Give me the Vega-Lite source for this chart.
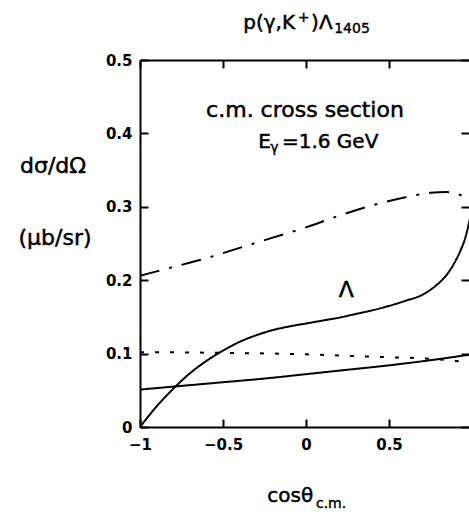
{
  "$schema": "https://vega.github.io/schema/vega-lite/v6.json",
  "width": 329,
  "height": 367,
  "autosize": {"type": "none"},
  "padding": {"left": 140, "top": 60, "right": 0, "bottom": 88},
  "background": "white",
  "config": {"view": {"stroke": null}, "font": "DejaVu Sans"},
  "datasets": {
    "curves": [
      {"curve": "lambda", "cos": -1, "sigma": 0},
      {"curve": "lambda", "cos": -0.9, "sigma": 0.028},
      {"curve": "lambda", "cos": -0.8, "sigma": 0.052},
      {"curve": "lambda", "cos": -0.7, "sigma": 0.073},
      {"curve": "lambda", "cos": -0.6, "sigma": 0.09},
      {"curve": "lambda", "cos": -0.5, "sigma": 0.104},
      {"curve": "lambda", "cos": -0.4, "sigma": 0.116},
      {"curve": "lambda", "cos": -0.3, "sigma": 0.125},
      {"curve": "lambda", "cos": -0.2, "sigma": 0.132},
      {"curve": "lambda", "cos": -0.1, "sigma": 0.137},
      {"curve": "lambda", "cos": 0, "sigma": 0.141},
      {"curve": "lambda", "cos": 0.1, "sigma": 0.145},
      {"curve": "lambda", "cos": 0.2, "sigma": 0.149},
      {"curve": "lambda", "cos": 0.3, "sigma": 0.154},
      {"curve": "lambda", "cos": 0.4, "sigma": 0.159},
      {"curve": "lambda", "cos": 0.5, "sigma": 0.165},
      {"curve": "lambda", "cos": 0.6, "sigma": 0.172},
      {"curve": "lambda", "cos": 0.7, "sigma": 0.18},
      {"curve": "lambda", "cos": 0.75, "sigma": 0.187},
      {"curve": "lambda", "cos": 0.8, "sigma": 0.196},
      {"curve": "lambda", "cos": 0.85, "sigma": 0.208},
      {"curve": "lambda", "cos": 0.9, "sigma": 0.226},
      {"curve": "lambda", "cos": 0.93, "sigma": 0.24},
      {"curve": "lambda", "cos": 0.96, "sigma": 0.258},
      {"curve": "lambda", "cos": 0.98, "sigma": 0.276},
      {"curve": "lambda", "cos": 1, "sigma": 0.298},
      {"curve": "linear", "cos": -1, "sigma": 0.051},
      {"curve": "linear", "cos": -0.75, "sigma": 0.056},
      {"curve": "linear", "cos": -0.5, "sigma": 0.061},
      {"curve": "linear", "cos": -0.25, "sigma": 0.066},
      {"curve": "linear", "cos": 0, "sigma": 0.072},
      {"curve": "linear", "cos": 0.25, "sigma": 0.078},
      {"curve": "linear", "cos": 0.5, "sigma": 0.084},
      {"curve": "linear", "cos": 0.75, "sigma": 0.091},
      {"curve": "linear", "cos": 1, "sigma": 0.099},
      {"curve": "dotted", "cos": -1, "sigma": 0.102},
      {"curve": "dotted", "cos": -0.5, "sigma": 0.101},
      {"curve": "dotted", "cos": 0, "sigma": 0.099},
      {"curve": "dotted", "cos": 0.25, "sigma": 0.097},
      {"curve": "dotted", "cos": 0.5, "sigma": 0.095},
      {"curve": "dotted", "cos": 0.75, "sigma": 0.093},
      {"curve": "dotted", "cos": 0.9, "sigma": 0.09},
      {"curve": "dotted", "cos": 1, "sigma": 0.088},
      {"curve": "dashdot", "cos": -1, "sigma": 0.206},
      {"curve": "dashdot", "cos": -0.8, "sigma": 0.218},
      {"curve": "dashdot", "cos": -0.6, "sigma": 0.23},
      {"curve": "dashdot", "cos": -0.4, "sigma": 0.244},
      {"curve": "dashdot", "cos": -0.2, "sigma": 0.258},
      {"curve": "dashdot", "cos": 0, "sigma": 0.272},
      {"curve": "dashdot", "cos": 0.2, "sigma": 0.288},
      {"curve": "dashdot", "cos": 0.4, "sigma": 0.302},
      {"curve": "dashdot", "cos": 0.6, "sigma": 0.313},
      {"curve": "dashdot", "cos": 0.75, "sigma": 0.319},
      {"curve": "dashdot", "cos": 0.85, "sigma": 0.32},
      {"curve": "dashdot", "cos": 0.93, "sigma": 0.316},
      {"curve": "dashdot", "cos": 1, "sigma": 0.309}
    ],
    "centerText": [
      {"label": "c.m. cross section", "cos": -0.006, "sigma": 0.4223},
      {"label": "Λ", "cos": 0.243, "sigma": 0.177},
      {"label": "dσ/dΩ", "cos": -1.524, "sigma": 0.346},
      {"label": "(μb/sr)", "cos": -1.512, "sigma": 0.248}
    ],
    "leftText": [
      {"label": "E", "cos": -0.287, "sigma": 0.38},
      {"label": "=1.6 GeV", "cos": -0.145, "sigma": 0.38},
      {"label": "cosθ", "cos": -0.233, "sigma": -0.102},
      {"label": "p(γ,K", "cos": -0.378, "sigma": 0.5418},
      {"label": ")", "cos": 0.03, "sigma": 0.5418},
      {"label": "Λ", "cos": 0.078, "sigma": 0.5418}
    ],
    "smallText": [
      {"label": "γ", "cos": -0.215, "sigma": 0.374},
      {"label": "c.m.", "cos": 0.06, "sigma": -0.11},
      {"label": "+", "cos": -0.05, "sigma": 0.5515},
      {"label": "1405", "cos": 0.17, "sigma": 0.5368}
    ]
  },
  "layer": [
    {
      "data": {"name": "curves"},
      "mark": {"type": "line", "clip": true, "strokeWidth": 2, "color": "black", "interpolate": "monotone"},
      "encoding": {
        "x": {"field": "cos", "type": "quantitative",
          "scale": {"domain": [-1, 0.982], "nice": false, "zero": false},
          "axis": {"orient": "bottom", "values": [-1, -0.5, 0, 0.5, 1], "format": "~g", "title": null, "grid": false,
            "tickSize": -8, "tickWidth": 2, "tickColor": "black", "domainColor": "black", "domainWidth": 2,
            "labelFont": "DejaVu Sans", "labelFontSize": 15, "labelFontWeight": "bold", "labelColor": "black",
            "labelPadding": 18, "labelFlush": false, "labelOverlap": false}},
        "y": {"field": "sigma", "type": "quantitative",
          "scale": {"domain": [0, 0.5], "nice": false},
          "axis": {"orient": "left", "values": [0, 0.1, 0.2, 0.3, 0.4, 0.5], "format": "~g", "title": null, "grid": false,
            "tickSize": -8, "tickWidth": 2, "tickColor": "black", "domainColor": "black", "domainWidth": 2,
            "labelFont": "DejaVu Sans", "labelFontSize": 15, "labelFontWeight": "bold", "labelColor": "black",
            "labelPadding": 16, "labelFlush": false, "labelOverlap": false}},
        "strokeDash": {"field": "curve", "type": "nominal", "legend": null,
          "scale": {"domain": ["lambda", "linear", "dashdot", "dotted"], "range": [[1, 0], [1, 0], [20, 10, 3, 10], [4, 11]]}}
      }
    },
    {
      "data": {"name": "centerText"},
      "mark": {"type": "text", "font": "DejaVu Sans", "fontSize": 22, "align": "center", "baseline": "alphabetic", "color": "black", "stroke": "black", "strokeWidth": 0.5},
      "encoding": {
        "x": {"field": "cos", "type": "quantitative",
          "scale": {"domain": [-1, 0.982], "nice": false, "zero": false},
          "axis": {"orient": "top", "values": [-1, -0.5, 0, 0.5, 1], "labels": false, "title": null, "grid": false,
            "tickSize": -8, "tickWidth": 2, "tickColor": "black", "domainColor": "black", "domainWidth": 2}},
        "y": {"field": "sigma", "type": "quantitative",
          "scale": {"domain": [0, 0.5], "nice": false},
          "axis": {"orient": "right", "values": [0, 0.1, 0.2, 0.3, 0.4, 0.5], "labels": false, "title": null, "grid": false, "domain": false,
            "tickSize": -8, "tickWidth": 2, "tickColor": "black"}},
        "text": {"field": "label"}
      }
    },
    {
      "data": {"name": "leftText"},
      "mark": {"type": "text", "font": "DejaVu Sans", "fontSize": 20, "align": "left", "baseline": "alphabetic", "color": "black", "stroke": "black", "strokeWidth": 0.5},
      "encoding": {
        "x": {"field": "cos", "type": "quantitative", "scale": {"domain": [-1, 0.982], "nice": false, "zero": false}, "axis": null},
        "y": {"field": "sigma", "type": "quantitative", "scale": {"domain": [0, 0.5], "nice": false}, "axis": null},
        "text": {"field": "label"}
      }
    },
    {
      "data": {"name": "smallText"},
      "mark": {"type": "text", "font": "DejaVu Sans", "fontSize": 14, "align": "left", "baseline": "alphabetic", "color": "black", "stroke": "black", "strokeWidth": 0.4},
      "encoding": {
        "x": {"field": "cos", "type": "quantitative", "scale": {"domain": [-1, 0.982], "nice": false, "zero": false}, "axis": null},
        "y": {"field": "sigma", "type": "quantitative", "scale": {"domain": [0, 0.5], "nice": false}, "axis": null},
        "text": {"field": "label"}
      }
    }
  ],
  "resolve": {"axis": {"x": "independent", "y": "independent"}}
}
